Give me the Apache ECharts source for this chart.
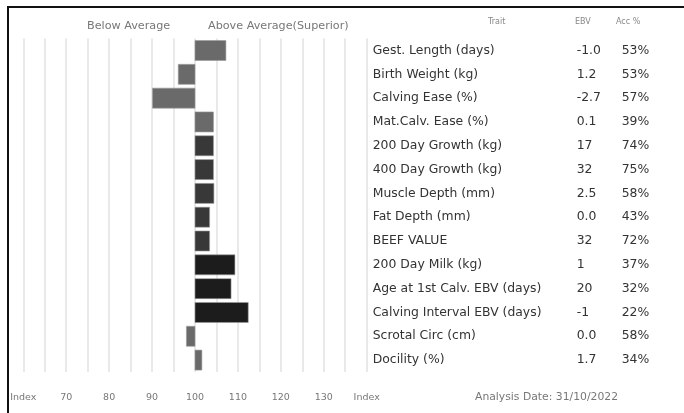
<!DOCTYPE html>
<html>
<head>
<meta charset="utf-8">
<script src="https://cdn.jsdelivr.net/npm/echarts@6/dist/echarts.min.js"></script>
<style>
html,body{margin:0;padding:0;background:#fff;}
#c{width:684px;height:413px;}
</style>
</head>
<body>
<div id="c"></div>
<script>
const traits = ["Gest. Length (days)","Birth Weight (kg)","Calving Ease (%)","Mat.Calv. Ease (%)","200 Day Growth (kg)","400 Day Growth (kg)","Muscle Depth (mm)","Fat Depth (mm)","BEEF VALUE","200 Day Milk (kg)","Age at 1st Calv. EBV (days)","Calving Interval EBV (days)","Scrotal Circ (cm)","Docility (%)"];
const ebv = ["-1.0","1.2","-2.7","0.1","17","32","2.5","0.0","32","1","20","-1","0.0","1.7"];
const acc = ["53%","53%","57%","39%","74%","75%","58%","43%","72%","37%","32%","22%","58%","34%"];
const indexValues = [107.2,96.1,90.1,104.3,104.3,104.3,104.4,103.4,103.4,109.3,108.4,112.4,98.0,101.6];
const tickLabels = {60:"Index",70:"70",80:"80",90:"90",100:"100",110:"110",120:"120",130:"130",140:"Index"};
const baseline = 100;

const barColors = ["#6a6a6a","#6a6a6a","#6a6a6a","#6a6a6a","#383838","#383838","#383838","#383838","#383838","#1c1c1c","#1c1c1c","#1c1c1c","#6a6a6a","#6a6a6a"];
const FONT = "DejaVu Sans";

const chart = echarts.init(document.getElementById('c'), null, {renderer:'canvas'});
const option = {
  animation:false,
  textStyle:{fontFamily:FONT},
  grid:{left:23.3, right:317.3, top:38.6, bottom:41, containLabel:false},
  xAxis:{
    type:'value', min:60, max:140, interval:5,
    axisLine:{show:false}, axisTick:{show:false},
    splitLine:{show:true, lineStyle:{color:'#e2e2e2', width:1.5}},
    axisLabel:{margin:21, fontSize:9.5, color:'#777', fontFamily:FONT,
      formatter:v => tickLabels[v] !== undefined ? tickLabels[v] : ''}
  },
  yAxis:[
    {type:'category', data:traits, inverse:true, position:'right',
     axisLine:{show:false}, axisTick:{show:false}, splitLine:{show:false},
     axisLabel:{margin:6, align:'left', fontSize:12.4, color:'#333', fontFamily:FONT}},
    {type:'category', data:ebv, inverse:true, position:'right', offset:210,
     axisLine:{show:false}, axisTick:{show:false}, splitLine:{show:false},
     axisLabel:{margin:0, align:'left', fontSize:12.4, color:'#333', fontFamily:FONT}},
    {type:'category', data:acc, inverse:true, position:'right', offset:255,
     axisLine:{show:false}, axisTick:{show:false}, splitLine:{show:false},
     axisLabel:{margin:0, align:'left', fontSize:12.4, color:'#333', fontFamily:FONT}}
  ],
  series:[{
    type:'custom',
    yAxisIndex:0,
    data:indexValues.map((v,i)=>[i,v]),
    encode:{x:1, y:0},
    renderItem:(params, api)=>{
      const i = api.value(0), v = api.value(1);
      const p0 = api.coord([baseline, i]);
      const p1 = api.coord([v, i]);
      const h = api.size([0,1])[1]*0.84;
      return {type:'rect',
        shape:{x:Math.min(p0[0],p1[0]), y:p0[1]-h/2, width:Math.abs(p1[0]-p0[0]), height:h},
        style:{fill:barColors[params.dataIndex], stroke:'#9a9a9a', lineWidth:0.6}};
    }
  }],
  graphic:[
    {type:'polyline', shape:{points:[[8,413],[8,7],[684,7]]}, style:{stroke:'#111', lineWidth:2, fill:null}},
    {type:'text', left:87, top:21, style:{text:'Below Average', fontSize:11.2, fill:'#777', fontFamily:FONT}},
    {type:'text', left:208, top:21, style:{text:'Above Average(Superior)', fontSize:11.2, fill:'#777', fontFamily:FONT}},
    {type:'text', left:488, top:18, style:{text:'Trait', fontSize:8, fill:'#888', fontFamily:FONT}},
    {type:'text', left:575, top:18, style:{text:'EBV', fontSize:8, fill:'#888', fontFamily:FONT}},
    {type:'text', left:616, top:18, style:{text:'Acc %', fontSize:8, fill:'#888', fontFamily:FONT}},
    {type:'text', left:475, top:392, style:{text:'Analysis Date: 31/10/2022', fontSize:10.8, fill:'#777', fontFamily:FONT}}
  ]
};
chart.setOption(option);
</script>
</body>
</html>
